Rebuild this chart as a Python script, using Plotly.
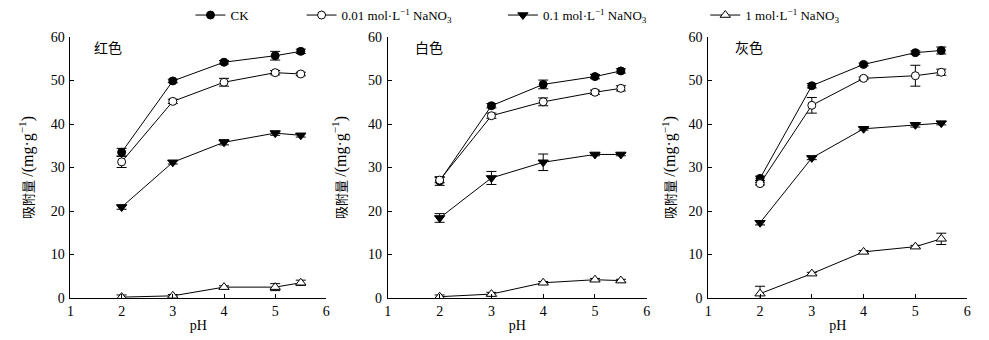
import plotly.graph_objects as go

ph = [2, 3, 4, 5, 5.5]
panels = ["红色", "白色", "灰色"]
series_names = ["CK",
                "0.01 mol·L<sup>−1</sup> NaNO<sub>3</sub>",
                "0.1 mol·L<sup>−1</sup> NaNO<sub>3</sub>",
                "1 mol·L<sup>−1</sup> NaNO<sub>3</sub>"]
y_title = "吸附量 <span style='font-size:16px'>/(mg·g<sup>−1</sup>)</span>"

# 红色
red_ck = [33.5, 49.9, 54.2, 55.7, 56.7]
red_ck_err = [0.9, 0.4, 0.4, 1.0, 0.5]
red_001 = [31.3, 45.2, 49.6, 51.8, 51.5]
red_001_err = [1.3, 0.5, 0.9, 0.5, 0.4]
red_01 = [20.9, 31.2, 35.8, 37.9, 37.4]
red_01_err = [0.5, 0.4, 0.6, 0.5, 0.4]
red_1 = [0.2, 0.5, 2.5, 2.5, 3.5]
red_1_err = [0.5, 0.3, 0.3, 0.8, 0.6]

# 白色
white_ck = [26.9, 44.2, 49.1, 50.9, 52.2]
white_ck_err = [1.0, 0.5, 1.0, 0.5, 0.5]
white_001 = [27.1, 41.9, 45.1, 47.3, 48.2]
white_001_err = [0.6, 0.6, 0.9, 0.5, 0.6]
white_01 = [18.4, 27.6, 31.2, 33.0, 33.0]
white_01_err = [1.0, 1.5, 1.9, 0.3, 0.3]
white_1 = [0.3, 0.9, 3.5, 4.2, 4.0]
white_1_err = [0.4, 0.4, 0.3, 0.3, 0.3]

# 灰色
gray_ck = [27.5, 48.8, 53.7, 56.4, 56.9]
gray_ck_err = [0.5, 0.5, 0.3, 0.4, 0.8]
gray_001 = [26.3, 44.3, 50.5, 51.1, 51.9]
gray_001_err = [0.3, 1.8, 0.3, 2.4, 0.7]
gray_01 = [17.3, 32.2, 38.9, 39.8, 40.2]
gray_01_err = [0.5, 0.4, 0.3, 0.5, 0.4]
gray_1 = [1.0, 5.6, 10.6, 11.8, 13.6]
gray_1_err = [1.7, 0.3, 0.3, 0.3, 1.3]

data = [
    [(red_ck, red_ck_err), (red_001, red_001_err), (red_01, red_01_err), (red_1, red_1_err)],
    [(white_ck, white_ck_err), (white_001, white_001_err), (white_01, white_01_err), (white_1, white_1_err)],
    [(gray_ck, gray_ck_err), (gray_001, gray_001_err), (gray_01, gray_01_err), (gray_1, gray_1_err)],
]

markers = [
    dict(symbol="circle", size=8, color="black", line=dict(color="black", width=1)),
    dict(symbol="circle", size=8, color="white", line=dict(color="black", width=1)),
    dict(symbol="triangle-down", size=9, color="black", line=dict(color="black", width=1)),
    dict(symbol="triangle-up", size=9, color="white", line=dict(color="black", width=1)),
]

W, H = 989, 340
mt, mb = 36, 42
plot_h = H - mt - mb
domains_px = [(67, 325), (387, 648), (710, 971)]
label_dx = [22, 25, 25]
title_standoff = [14, 18, 9]

SERIF = "Liberation Serif, Times New Roman, Noto Sans CJK SC, serif"
fig = go.Figure()

legend_names = ["legend", "legend2", "legend3", "legend4"]
legend_x_px = [188, 300, 503, 707]

for p in range(3):
    xa = "x" if p == 0 else f"x{p+1}"
    ya = "y" if p == 0 else f"y{p+1}"
    for s in range(4):
        vals, errs = data[p][s]
        fig.add_trace(go.Scatter(
            x=ph, y=vals, xaxis=xa, yaxis=ya,
            mode="lines+markers",
            name=series_names[s],
            line=dict(color="black", width=1),
            marker=markers[s],
            error_y=dict(type="data", array=errs, visible=True, color="black", thickness=1, width=5),
            showlegend=(p == 0),
            legend=legend_names[s],
        ))

layout = dict(
    width=W, height=H,
    margin=dict(l=0, r=0, t=mt, b=mb),
    paper_bgcolor="white", plot_bgcolor="white",
    font=dict(family=SERIF, size=13, color="black"),
    annotations=[],
)

for p in range(3):
    sfx = "" if p == 0 else str(p + 1)
    x0, x1 = domains_px[p]
    layout[f"xaxis{sfx}"] = dict(
        domain=[x0 / W, x1 / W], range=[1, 6], anchor=f"y{sfx}",
        tickvals=[1, 2, 3, 4, 5, 6], ticks="inside", ticklen=4, tickcolor="black",
        showline=True, linecolor="black", linewidth=1, showgrid=False, zeroline=False,
        title=dict(text="pH", standoff=2, font=dict(size=14, family=SERIF)),
        tickfont=dict(size=14, family=SERIF),
    )
    layout[f"yaxis{sfx}"] = dict(
        domain=[0, 1], range=[0, 60], anchor=f"x{sfx}",
        tickvals=[0, 10, 20, 30, 40, 50, 60], ticks="inside", ticklen=4, tickcolor="black",
        showline=True, linecolor="black", linewidth=1, showgrid=False, zeroline=False,
        ticklabelstandoff=2,
        title=dict(text=y_title, standoff=title_standoff[p], font=dict(size=13, family=SERIF)),
        tickfont=dict(size=14, family=SERIF),
    )
    layout["annotations"].append(dict(
        text=panels[p], xref=f"x{sfx} domain", yref=f"y{sfx} domain",
        x=label_dx[p] / (x1 - x0), y=0.96, xanchor="left", yanchor="middle", showarrow=False,
        font=dict(size=14, family="Noto Sans CJK SC"),
    ))

for i, ln in enumerate(legend_names):
    layout[ln] = dict(
        x=legend_x_px[i] / W, y=1 + (mt - 14) / plot_h, xanchor="left", yanchor="middle",
        orientation="h", bgcolor="rgba(0,0,0,0)", borderwidth=0,
        font=dict(size=13, family=SERIF), itemwidth=30,
    )

fig.update_layout(**layout)
fig.write_html("out.html", config={"displayModeBar": False},
               post_script="document.body.style.margin='0';")
